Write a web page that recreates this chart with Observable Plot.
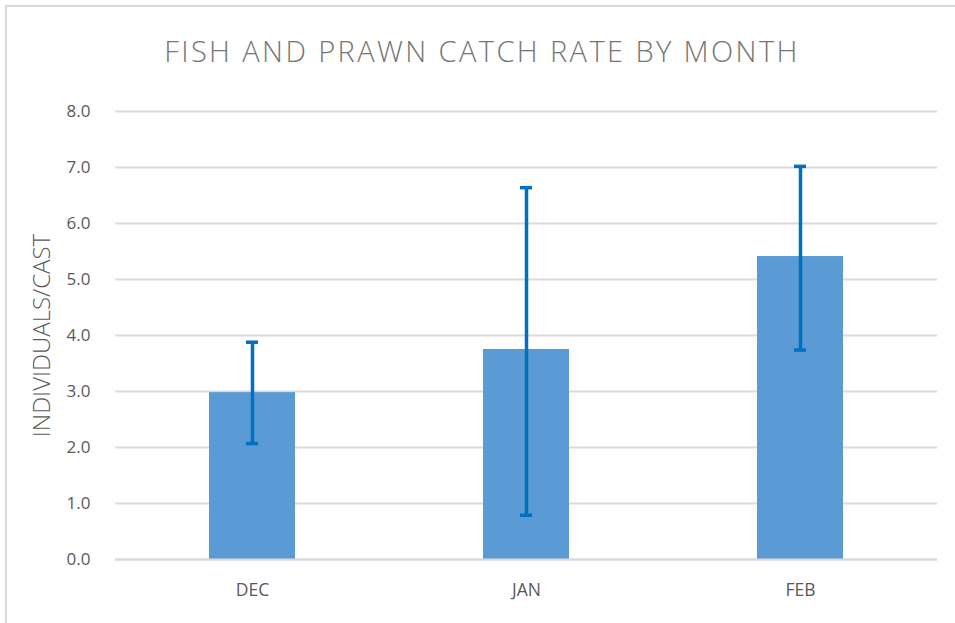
<!DOCTYPE html>
<html>
<head>
<meta charset="utf-8">
<script src="https://cdn.jsdelivr.net/npm/d3@7"></script>
<script src="https://cdn.jsdelivr.net/npm/@observablehq/plot@0.6"></script>
<style>
  html, body { margin: 0; padding: 0; background: #fff; }
  #wrap { position: relative; width: 955px; height: 623px; overflow: hidden; }
  #frame { position: absolute; left: 5px; top: 5px; width: 960px; height: 630px; border-left: 2px solid #d9d9d9; border-top: 2px solid #d9d9d9; box-sizing: border-box; }
  #title { position: absolute; left: 0; top: 31px; width: 964px; text-align: center; font-family: "Open Sans", sans-serif; font-weight: 300; font-size: 29px; letter-spacing: 2.4px; color: #757575; }
  #chart { position: absolute; left: 0; top: 0; }
</style>
</head>
<body>
<div id="wrap">
  <div id="frame"></div>
  <div id="chart"></div>
  <div id="title">FISH AND PRAWN CATCH RATE BY MONTH</div>
</div>
<script>
const months = ["DEC", "JAN", "FEB"];
const rates = [2.98, 3.75, 5.41];
const errLow = [2.07, 0.79, 3.74];
const errHigh = [3.88, 6.64, 7.02];
const yTicks = [0, 1, 2, 3, 4, 5, 6, 7, 8];

const data = months.map((m, i) => ({month: m, rate: rates[i], lo: errLow[i], hi: errHigh[i]}));

const font = "'Open Sans', sans-serif";

const chart = Plot.plot({
  width: 955,
  height: 623,
  marginLeft: 115,
  marginRight: 18,
  marginTop: 111,
  marginBottom: 64,
  style: {fontFamily: font, fontSize: "17px", color: "#595959", background: "transparent", overflow: "visible"},
  x: {domain: months, paddingInner: 0.686, paddingOuter: 0.343, label: null},
  y: {domain: [0, 8], label: null},
  marks: [
    Plot.gridY(yTicks, {stroke: "#d9d9d9", strokeOpacity: 1, strokeWidth: 2}),
    Plot.barY(data, {x: "month", y: "rate", fill: "#5b9bd5"}),
    Plot.ruleY([0], {stroke: "#d9d9d9", strokeWidth: 2}),
    Plot.ruleX(data, {x: "month", y1: "lo", y2: "hi", stroke: "#0070c0", strokeWidth: 3.5}),
    Plot.tickY(data, {x: "month", y: "lo", stroke: "#0070c0", strokeWidth: 3.5, inset: 37}),
    Plot.tickY(data, {x: "month", y: "hi", stroke: "#0070c0", strokeWidth: 3.5, inset: 37}),
    Plot.axisY(yTicks, {tickSize: 0, tickPadding: 25, tickFormat: d => d.toFixed(1), fill: "#595959", fontSize: 17, label: null}),
    Plot.axisX({tickSize: 0, tickPadding: 24, fill: "#595959", fontSize: 17.5, label: null}),
    Plot.text(["INDIVIDUALS/CAST"], {frameAnchor: "left", textAnchor: "middle", dx: -73, rotate: -90, fill: "#595959", fontSize: 24, fontWeight: 300})
  ]
});
document.getElementById("chart").appendChild(chart);
</script>
</body>
</html>
